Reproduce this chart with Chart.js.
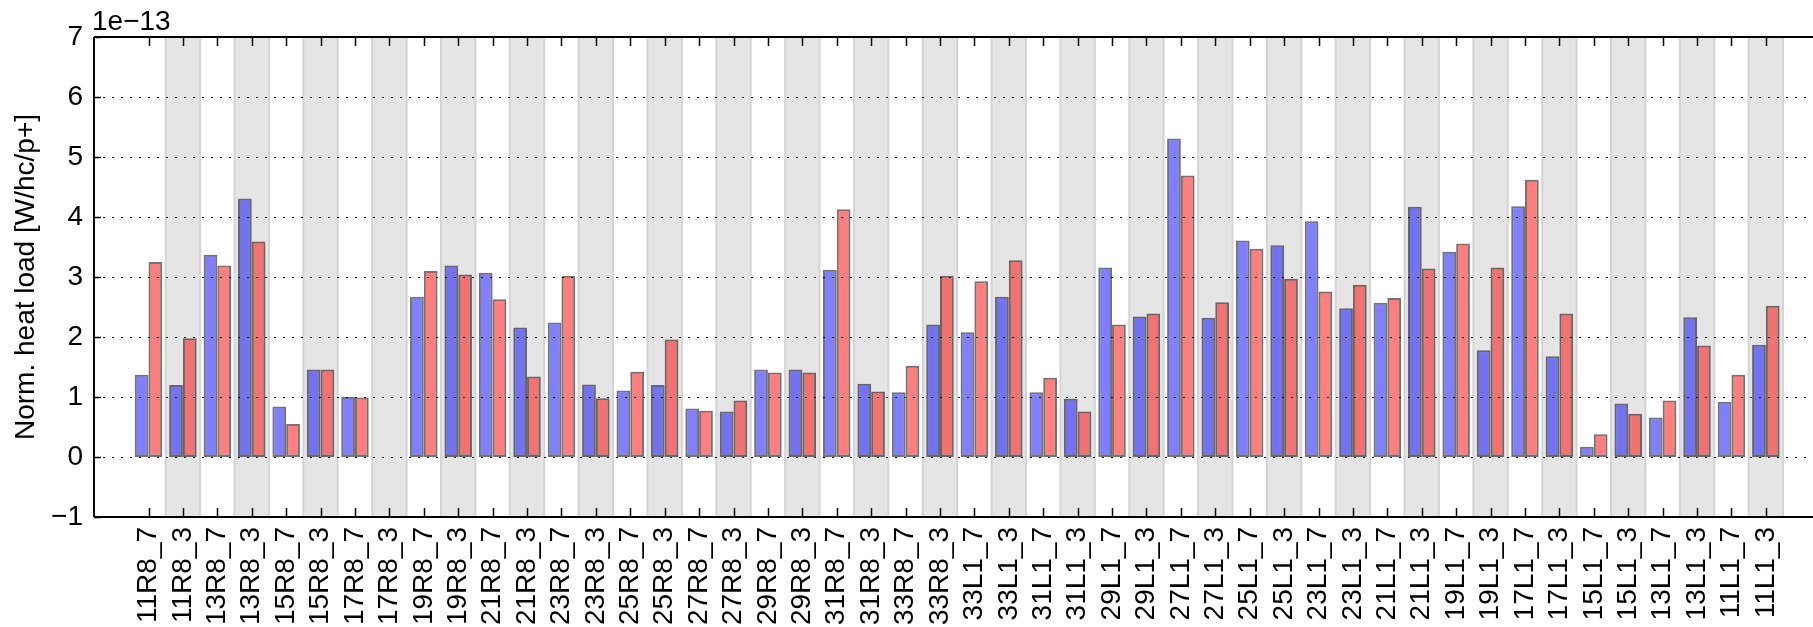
<!DOCTYPE html>
<html>
<head>
<meta charset="utf-8">
<script src="https://cdn.jsdelivr.net/npm/chart.js@4/dist/chart.umd.min.js"></script>
<style>
  html, body { margin: 0; padding: 0; background: #fff; }
</style>
</head>
<body>
<canvas id="graficoCarga" width="1813" height="627"></canvas>
<script>
// etiquetas de las celdas (eje x)
const etiquetas = [
  '11R8_7', '11R8_3', '13R8_7', '13R8_3', '15R8_7', '15R8_3', '17R8_7', '17R8_3',
  '19R8_7', '19R8_3', '21R8_7', '21R8_3', '23R8_7', '23R8_3', '25R8_7', '25R8_3',
  '27R8_7', '27R8_3', '29R8_7', '29R8_3', '31R8_7', '31R8_3', '33R8_7', '33R8_3',
  '33L1_7', '33L1_3', '31L1_7', '31L1_3', '29L1_7', '29L1_3', '27L1_7', '27L1_3',
  '25L1_7', '25L1_3', '23L1_7', '23L1_3', '21L1_7', '21L1_3', '19L1_7', '19L1_3',
  '17L1_7', '17L1_3', '15L1_7', '15L1_3', '13L1_7', '13L1_3', '11L1_7', '11L1_3'
];

// valores en unidades de 1e-13 W/hc/p+
const valoresAzul = [
  1.37, 1.20, 3.37, 4.31, 0.84, 1.46, 1.00, null, 2.67, 3.19,
  3.07, 2.16, 2.24, 1.21, 1.11, 1.20, 0.81, 0.76, 1.46, 1.46,
  3.12, 1.22, 1.08, 2.21, 2.08, 2.67, 1.08, 0.97, 3.16, 2.34,
  5.31, 2.32, 3.61, 3.53, 3.93, 2.48, 2.57, 4.17, 3.42, 1.78,
  4.18, 1.68, 0.17, 0.89, 0.66, 2.33, 0.92, 1.87
];
const valoresRojo = [
  3.25, 1.98, 3.19, 3.59, 0.55, 1.46, 0.99, null, 3.10, 3.04,
  2.63, 1.34, 3.02, 0.98, 1.42, 1.96, 0.77, 0.94, 1.41, 1.41,
  4.13, 1.09, 1.52, 3.02, 2.93, 3.28, 1.32, 0.76, 2.21, 2.39,
  4.69, 2.58, 3.47, 2.97, 2.76, 2.87, 2.65, 3.14, 3.56, 3.16,
  4.62, 2.39, 0.38, 0.72, 0.94, 1.86, 1.37, 2.52
];

const ticksY = [-1, 0, 1, 2, 3, 4, 5, 6, 7];
const multiplicador = '1e\u221213';
const tituloY = 'Norm. heat load [W/hc/p+]';

const fuente = { family: "'Liberation Sans', Arial, sans-serif", size: 28 };

// bandas grises, rejilla punteada, marcas y ejes (estilo matplotlib)
const estiloEjes = {
  id: 'estiloEjes',
  beforeDatasetsDraw(chart) {
    const { ctx, chartArea: a, scales: { x } } = chart;
    ctx.save();
    ctx.beginPath();
    ctx.rect(a.left, a.top, a.right - a.left, a.bottom - a.top);
    ctx.clip();
    etiquetas.forEach((_, i) => {
      if (i % 2 === 0) return;
      const x0 = x.getPixelForValue(i - 0.5);
      const x1 = x.getPixelForValue(i + 0.5);
      ctx.fillStyle = '#e5e5e5';
      ctx.fillRect(x0, a.top, x1 - x0, a.bottom - a.top);
      ctx.strokeStyle = '#d4d4d4';
      ctx.lineWidth = 2;
      ctx.beginPath();
      ctx.moveTo(x0, a.top); ctx.lineTo(x0, a.bottom);
      ctx.moveTo(x1, a.top); ctx.lineTo(x1, a.bottom);
      ctx.stroke();
    });
    ctx.restore();
  },
  afterDatasetsDraw(chart) {
    const { ctx, chartArea: a, scales: { x, y } } = chart;
    ctx.save();

    // rejilla punteada encima de las barras
    ctx.strokeStyle = '#000';
    ctx.lineWidth = 1;
    ctx.setLineDash([2, 7]);
    ticksY.forEach(v => {
      if (v === ticksY[0] || v === ticksY[ticksY.length - 1]) return;
      const py = Math.round(y.getPixelForValue(v)) + 0.5;
      ctx.beginPath();
      ctx.moveTo(a.left, py);
      ctx.lineTo(a.right, py);
      ctx.stroke();
    });
    ctx.setLineDash([]);

    // marcas hacia dentro
    ctx.lineWidth = 1.5;
    etiquetas.forEach((_, i) => {
      const px = Math.round(x.getPixelForValue(i)) + 0.5;
      ctx.beginPath();
      ctx.moveTo(px, a.bottom); ctx.lineTo(px, a.bottom - 9);
      ctx.moveTo(px, a.top); ctx.lineTo(px, a.top + 9);
      ctx.stroke();
    });
    ticksY.forEach(v => {
      const py = Math.round(y.getPixelForValue(v)) + 0.5;
      ctx.beginPath();
      ctx.moveTo(a.left, py); ctx.lineTo(a.left + 7, py);
      ctx.stroke();
    });

    // ejes
    ctx.lineWidth = 2;
    ctx.beginPath();
    ctx.moveTo(a.left, a.top); ctx.lineTo(a.right, a.top);
    ctx.moveTo(a.left, a.top); ctx.lineTo(a.left, a.bottom);
    ctx.moveTo(a.left, a.bottom); ctx.lineTo(a.right, a.bottom);
    ctx.stroke();

    // multiplicador del eje y
    ctx.fillStyle = '#000';
    ctx.font = `${fuente.size}px ${fuente.family}`;
    ctx.textAlign = 'left';
    ctx.textBaseline = 'alphabetic';
    ctx.fillText(multiplicador, a.left - 2, a.top - 7);
    ctx.restore();
  }
};

const ctx = document.getElementById('graficoCarga').getContext('2d');

new Chart(ctx, {
  type: 'bar',
  data: {
    datasets: [
      {
        label: 'azul',
        data: valoresAzul.map((v, i) => ({ x: i, y: v })),
        backgroundColor: 'rgba(0,0,255,0.5)',
        borderColor: 'rgba(0,0,0,0.55)',
        borderWidth: 2,
        borderSkipped: false
      },
      {
        label: 'rojo',
        data: valoresRojo.map((v, i) => ({ x: i, y: v })),
        backgroundColor: 'rgba(255,0,0,0.5)',
        borderColor: 'rgba(0,0,0,0.55)',
        borderWidth: 2,
        borderSkipped: false
      }
    ]
  },
  options: {
    responsive: false,
    animation: false,
    categoryPercentage: 0.8,
    barPercentage: 1.0,
    layout: { padding: { top: 37, left: 0, right: 0, bottom: 0 } },
    plugins: { legend: { display: false }, tooltip: { enabled: false } },
    scales: {
      x: {
        type: 'linear',
        min: -1.584,
        max: 48.37,
        offset: false,
        grid: { display: false, drawTicks: false },
        border: { display: false },
        afterBuildTicks: ax => { ax.ticks = etiquetas.map((_, i) => ({ value: i })); },
        afterFit: ax => { ax.height = 110; },
        ticks: {
          autoSkip: false,
          minRotation: 90,
          maxRotation: 90,
          padding: 10,
          color: '#000',
          font: fuente,
          callback: v => etiquetas[v]
        }
      },
      y: {
        min: ticksY[0],
        max: ticksY[ticksY.length - 1],
        grid: { display: false, drawTicks: false },
        border: { display: false },
        afterFit: ax => { ax.width = 94; },
        ticks: {
          stepSize: 1,
          padding: 11,
          color: '#000',
          font: fuente,
          callback: v => (v < 0 ? '\u2212' + Math.abs(v) : String(v))
        },
        title: {
          display: true,
          text: tituloY,
          color: '#000',
          font: fuente,
          padding: { top: 9, bottom: 0 }
        }
      }
    }
  },
  plugins: [estiloEjes]
});
</script>
</body>
</html>
